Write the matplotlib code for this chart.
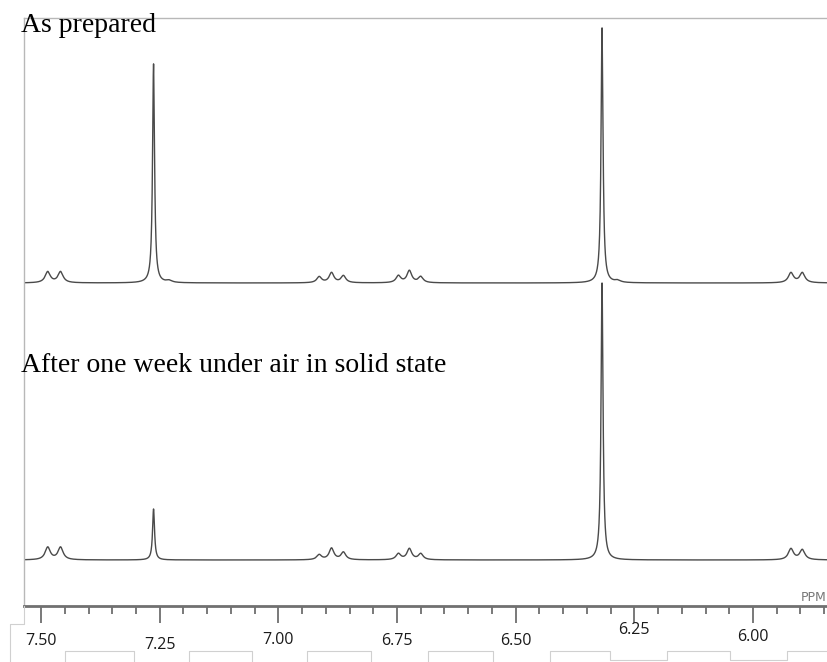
import numpy as np
from matplotlib import pyplot as plt
from matplotlib.lines import Line2D
from matplotlib.ticker import MultipleLocator

W, H = 827, 662

# chemical shift window shown (ppm, high field on the right)
ppm_left = 7.536
ppm_right = 5.844

# "As prepared": peak shift (ppm), height, line width (ppm)
fresh_shift = [7.486, 7.459, 7.263, 7.230, 6.914, 6.888, 6.863,
               6.747, 6.724, 6.700, 6.318, 6.285, 5.920, 5.896]
fresh_height = [11, 11, 219, 2, 6, 10, 7,
                7, 12, 6, 255, 2, 10, 10]
fresh_width = [0.013, 0.013, 0.005, 0.014, 0.012, 0.012, 0.012,
               0.012, 0.012, 0.012, 0.005, 0.014, 0.013, 0.013]

# after one week under air
aged_shift = [7.486, 7.459, 7.263, 6.914, 6.888, 6.863,
              6.747, 6.724, 6.700, 6.318, 5.920, 5.896]
aged_height = [12.5, 12.5, 51, 5, 11.5, 7.5,
               6, 11, 6, 277, 11, 10]
aged_width = [0.013, 0.013, 0.005, 0.012, 0.012, 0.012,
              0.012, 0.012, 0.012, 0.005, 0.013, 0.013]

tick_major = [7.50, 7.25, 7.00, 6.75, 6.50, 6.25, 6.00]
tick_labels = ['7.50', '7.25', '7.00', '6.75', '6.50', '6.25', '6.00']


def fx(x):
    return x / W


def fy(y):
    return 1 - y / H


def spectrum(ppm, shifts, heights, widths):
    y = np.zeros_like(ppm)
    for s, h, w in zip(shifts, heights, widths):
        y += h / (1 + ((ppm - s) / (w / 2)) ** 2)
    return y


def drawChart():
    fig = plt.figure(figsize=(W / 100, H / 100), dpi=100)
    ax = fig.add_axes([fx(24), fy(606), fx(803), 588 / H])

    ppm = np.arange(ppm_right, ppm_left, 0.0002)
    fresh = spectrum(ppm, fresh_shift, fresh_height, fresh_width)
    aged = spectrum(ppm, aged_shift, aged_height, aged_width)

    # stack the two traces
    ax.plot(ppm, fresh + 323, color='#4a4a4a', lw=1.0)
    ax.plot(ppm, aged + 46, color='#4a4a4a', lw=1.0)

    ax.set_xlim(ppm_left, ppm_right)
    ax.set_ylim(0, 588)
    ax.set_yticks([])
    ax.set_xticks(tick_major)
    ax.set_xticklabels([])
    ax.xaxis.set_minor_locator(MultipleLocator(0.05))
    ax.tick_params(axis='x', which='major', direction='out', length=12.5,
                   width=1.1, color='#555555')
    ax.tick_params(axis='x', which='minor', direction='out', length=6,
                   width=1.1, color='#555555')

    ax.spines['right'].set_visible(False)
    ax.spines['left'].set_color('#b8b8b8')
    ax.spines['top'].set_color('#b8b8b8')
    ax.spines['left'].set_linewidth(1)
    ax.spines['top'].set_linewidth(1)
    ax.spines['bottom'].set_color('#707070')
    ax.spines['bottom'].set_linewidth(2)

    # tick labels sit at slightly different heights
    drops = [35, 39, 34, 35, 35, 24, 31]
    for v, lab, d in zip(tick_major, tick_labels, drops):
        ax.text(v, -d / 588, lab, transform=ax.get_xaxis_transform(),
                ha='center', va='center', fontsize=11.5, family='Open Sans',
                color='#1a1a1a')

    fig.text(fx(826), fy(601), 'PPM', ha='right', va='baseline',
             fontsize=9, color='#777777')

    fig.text(fx(21), fy(32), 'As prepared', ha='left', va='baseline',
             fontsize=20, family='Liberation Serif', color='black')
    fig.text(fx(21), fy(372), 'After one week under air in solid state',
             ha='left', va='baseline', fontsize=20,
             family='Liberation Serif', color='black')

    # faint frame edges below the axis
    paths = [
        [(24, 606), (24, 624), (10, 624), (10, 662)],
        [(65, 662), (65, 651), (134, 651), (134, 662)],
        [(189, 662), (189, 651), (252, 651), (252, 662)],
        [(307, 662), (307, 651), (371, 651), (371, 662)],
        [(428, 662), (428, 651), (493, 651), (493, 662)],
        [(550, 662), (550, 651), (610, 651), (610, 660), (667, 660),
         (667, 651), (730, 651), (730, 660), (787, 660), (787, 651),
         (827, 651)],
    ]
    for p in paths:
        xs = [fx(a) for a, b in p]
        ys = [fy(b) for a, b in p]
        fig.add_artist(Line2D(xs, ys, transform=fig.transFigure,
                              color='#d0d0d0', lw=0.8))

    fig.savefig('out.png', dpi=100)


def main():
    drawChart()


if __name__ == "__main__":
    main()
